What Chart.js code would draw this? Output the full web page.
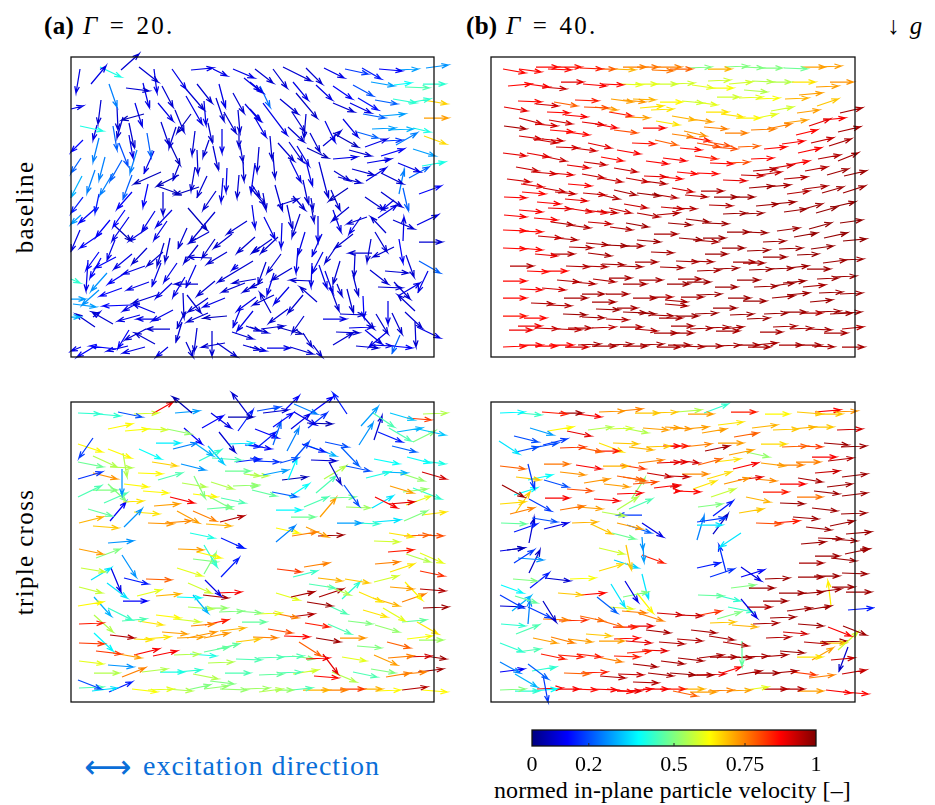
<!DOCTYPE html>
<html><head><meta charset="utf-8">
<script src="https://cdn.jsdelivr.net/npm/chart.js@4"></script>
<style>
html,body{margin:0;padding:0;background:#fff;width:935px;height:805px;overflow:hidden}
canvas{position:absolute;display:block}
.t{position:absolute;font-family:"Liberation Serif",serif;color:#000;white-space:nowrap;line-height:1;font-size:25px}
.rot{transform:translate(-50%,-50%) rotate(-90deg);transform-origin:center;letter-spacing:1.35px}
</style></head><body>
<div class="t" style="left:44px;top:13px;letter-spacing:.3px"><b>(a)</b></div>
<div class="t" style="left:83px;top:13px;letter-spacing:2.2px;word-spacing:2px"><i>Γ</i> = 20.</div>
<div class="t" style="left:466px;top:13px;letter-spacing:.3px"><b>(b)</b></div>
<div class="t" style="left:506px;top:13px;letter-spacing:2.2px;word-spacing:2px"><i>Γ</i> = 40.</div>
<div class="t" style="left:887px;top:13px;word-spacing:4px">↓ <i>g</i></div>
<div class="t rot" style="left:24px;top:207px">baseline</div>
<div class="t rot" style="left:24px;top:552px">triple cross</div>
<div class="t" style="left:84px;top:752px;color:#0a6ed8;font-size:28px;letter-spacing:1px;word-spacing:0"><span style="font-family:'DejaVu Sans';font-size:33px;letter-spacing:0;line-height:28px;position:relative;top:1px">⟷</span><span style="position:absolute;left:59px;top:0">excitation direction</span></div>
<div class="t" style="left:494px;top:778px;font-size:24px;letter-spacing:.1px">normed in-plane particle velocity [–]</div>
<canvas id="pa" width="403" height="340" style="left:51px;top:37px"></canvas>
<canvas id="pb" width="404" height="340" style="left:471px;top:37px"></canvas>
<canvas id="pc" width="403" height="340" style="left:51px;top:382px"></canvas>
<canvas id="pd" width="404" height="340" style="left:471px;top:382px"></canvas>
<canvas id="cb" width="404" height="56" style="left:472px;top:720px"></canvas>
<script>
// each arrow: [tailX, tailY, tipX, tipY, normed speed]
const baselineG20=[[80,69,76,93,.1],[91,84,106,66,.1],[100,67,121,77,.4],[121,70,139,54,.08],[139,67,158,82,.08],[154,69,157,93,.1],[172,69,186,89,.1],[191,70,213,68,.1],[213,69,227,76,.1],[233,69,254,78,.1],[244,78,260,91,.1],[109,84,117,107,.25],[126,88,149,91,.08],[143,83,149,107,.1],[162,86,173,107,.08],[186,89,204,110,.08],[197,84,212,103,.08],[219,84,225,107,.1],[233,93,244,113,.08],[245,104,260,121,.1],[101,100,98,124,.08],[71,109,83,106,.1],[117,107,118,130,.08],[80,126,103,131,.4],[144,114,122,120,.06],[135,103,142,126,.1],[158,103,173,121,.1],[175,110,184,132,.08],[191,114,177,133,.06],[186,96,202,124,.1],[204,101,206,125,.1],[216,98,224,121,.08],[224,112,236,133,.08],[238,110,240,133,.08],[123,117,117,138,.08],[97,125,93,140,.1],[113,126,117,150,.22],[129,123,134,147,.08],[129,135,133,158,.1],[83,140,71,152,.13],[99,138,93,162,.25],[119,143,128,166,.2],[137,150,130,173,.25],[147,133,151,157,.22],[154,151,144,173,.1],[161,122,169,145,.08],[176,127,169,148,.08],[169,142,180,165,.06],[195,131,192,155,.08],[208,123,212,142,.08],[209,140,203,157,.08],[222,129,222,153,.1],[239,128,239,147,.08],[240,145,243,162,.08],[213,146,218,169,.08],[197,150,198,174,.08],[81,158,71,173,.22],[105,157,99,180,.25],[122,160,110,181,.22],[95,170,87,193,.25],[82,176,71,197,.3],[179,165,173,180,.08],[132,175,123,199,.22],[113,173,100,195,.25],[161,172,134,184,.06],[179,175,157,186,.06],[157,186,179,194,.06],[199,187,175,195,.06],[195,167,191,191,.08],[207,176,197,197,.08],[227,168,226,192,.1],[243,162,244,181,.08],[239,175,237,198,.08],[255,163,251,193,.1],[252,185,260,197,.08],[163,192,163,215,.08],[148,184,143,207,.12],[132,192,117,209,.12],[83,197,71,213,.15],[99,194,95,213,.15],[216,191,203,210,.08],[223,178,221,202,.1],
[255,69,273,83,.08],[273,69,287,88,.08],[283,67,311,81,.08],[306,68,322,84,.08],[324,68,344,78,.1],[345,69,368,74,.18],[362,68,381,79,.15],[379,69,402,71,.12],[397,70,418,69,.28],[426,68,448,65,.27],[250,82,263,93,.1],[260,86,270,107,.23],[293,82,308,100,.1],[316,85,332,100,.1],[333,86,352,99,.12],[353,85,373,96,.2],[371,82,394,86,.28],[394,85,411,83,.38],[405,87,429,88,.45],[423,84,445,84,.42],[375,100,397,104,.22],[358,98,378,110,.14],[393,99,416,103,.42],[408,103,430,99,.42],[423,100,447,104,.67],[280,99,298,114,.08],[296,93,317,118,.07],[263,103,287,135,.1],[292,112,305,132,.08],[306,114,304,138,.08],[250,109,261,121,.1],[255,118,266,137,.1],[288,127,304,142,.08],[333,103,354,112,.08],[350,103,371,113,.1],[363,114,385,118,.22],[382,116,405,114,.28],[424,118,448,118,.72],[325,121,335,142,.1],[343,119,358,137,.1],[323,146,341,131,.08],[333,133,358,147,.06],[310,133,320,152,.08],[357,132,378,138,.22],[372,129,395,128,.28],[388,130,413,129,.3],[413,128,430,132,.4],[424,136,446,144,.66],[365,147,387,139,.1],[385,141,402,140,.18],[396,145,417,133,.25],[270,136,272,159,.08],[278,143,294,161,.08],[289,142,303,162,.08],[297,146,309,166,.1],[307,148,328,158,.06],[349,150,371,156,.08],[333,159,357,157,.1],[381,156,404,149,.12],[367,163,391,159,.1],[413,149,435,156,.28],[422,166,445,162,.4],[398,163,420,172,.1],[259,147,257,172,.08],[273,155,275,178,.08],[290,160,301,182,.1],[307,165,312,185,.1],[319,162,328,197,.08],[352,169,374,175,.08],[334,171,350,181,.08],[338,177,361,183,.08],[366,181,386,168,.1],[381,173,403,184,.08],[409,178,429,167,.22],[399,194,404,170,.25],[348,188,329,201,.06],[419,194,441,186,.12],[403,188,408,210,.22],[365,197,384,210,.08],[381,192,402,207,.08],[394,200,382,210,.1],[275,185,282,210,.08],[303,180,308,203,.08],[331,190,340,210,.08],[250,187,265,205,.08],[263,193,266,210,.08],[277,206,298,199,.08],[293,196,305,210,.08],[311,198,313,210,.08],
[81,215,71,224,.28],[97,207,79,223,.12],[110,220,96,237,.12],[80,230,71,251,.1],[102,233,80,248,.12],[125,210,113,227,.12],[129,217,112,241,.1],[115,226,131,241,.06],[155,211,142,231,.1],[172,210,156,227,.1],[167,221,154,240,.1],[148,228,129,241,.1],[187,228,178,248,.08],[115,240,107,260,.1],[99,252,86,270,.12],[101,258,90,278,.12],[116,257,95,268,.12],[132,254,114,269,.1],[147,248,132,264,.08],[163,252,147,266,.08],[164,243,157,266,.08],[177,263,164,282,.1],[170,238,165,262,.08],[88,260,86,291,.1],[107,273,91,291,.27],[145,266,123,274,.1],[127,272,108,284,.12],[161,263,152,286,.1],[149,282,127,290,.1],[122,288,100,296,.12],[99,290,82,305,.27],[185,277,173,297,.1],[196,265,186,287,.1],[198,284,175,284,.08],[198,245,184,263,.08],[212,258,188,257,.08],[209,232,189,243,.08],[215,212,190,242,.08],[188,208,207,230,.06],[247,221,227,234,.08],[232,234,214,248,.08],[215,239,202,258,.08],[227,252,207,264,.08],[255,237,237,253,.08],[260,247,253,252,.08],[238,265,232,270,.1],[253,261,218,282,.08],[71,279,80,283,.42],[71,299,85,299,.28],[73,304,96,307,.28],[71,317,80,317,.3],[172,283,156,298,.1],[157,295,133,303,.08],[132,305,103,306,.12],[155,313,133,304,.1],[138,303,123,311,.1],[113,324,92,312,.08],[95,327,76,314,.08],[93,317,100,312,.1],[140,315,118,321,.1],[173,310,152,321,.1],[161,319,137,319,.1],[183,293,184,318,.08],[208,298,188,312,.08],[187,295,201,313,.08],[225,298,203,307,.1],[227,316,204,318,.06],[208,313,187,322,.08],[185,312,177,328,.08],[182,322,176,342,.08],[215,281,197,296,.08],[256,279,233,283,.08],[245,283,222,292,.08],[260,283,243,292,.08],[256,297,237,311,.1],[240,310,233,327,.1],[253,311,237,331,.1],[170,329,147,329,.08],[129,330,118,348,.12],[146,329,125,340,.08],[155,344,135,333,.08],[116,349,90,346,.12],[97,345,77,357,.12],[81,347,71,351,.1],[128,346,107,351,.1],[145,347,123,353,.1],[168,347,156,357,.1],[197,328,194,352,.08],[212,331,212,356,.08],[225,343,202,347,.08],[217,343,237,357,.08],[186,342,193,357,.08],[232,332,253,339,.08],[246,326,260,331,.08],[243,345,260,350,.08],
[252,205,255,228,.1],[264,217,275,239,.1],[287,205,292,228,.08],[300,214,292,237,.08],[311,205,314,222,.08],[318,216,318,242,.1],[349,207,332,221,.08],[333,210,341,232,.1],[367,217,347,224,.08],[361,217,349,234,.1],[386,233,371,217,.08],[378,218,397,205,.1],[393,220,414,229,.08],[417,225,438,215,.1],[403,241,404,217,.1],[419,242,442,242,.08],[278,237,261,253,.08],[272,239,252,253,.08],[282,223,281,248,.1],[305,232,298,255,.1],[322,234,312,256,.1],[353,234,335,248,.08],[336,247,325,263,.08],[371,239,367,262,.08],[375,232,387,252,.08],[394,247,373,257,.08],[372,253,349,253,.08],[399,239,403,263,.12],[406,255,414,277,.08],[419,261,440,273,.22],[281,254,267,273,.08],[298,248,296,273,.1],[323,252,312,273,.1],[292,268,272,280,.08],[266,262,258,284,.08],[274,273,267,295,.1],[263,282,250,288,.08],[312,263,311,287,.1],[312,281,290,280,.08],[319,265,327,288,.1],[325,271,333,293,.1],[340,261,333,284,.08],[355,254,354,277,.08],[353,275,358,295,.08],[337,284,342,296,.08],[330,287,339,311,.08],[347,289,353,312,.08],[370,270,388,284,.08],[385,271,408,273,.08],[378,287,402,288,.08],[394,282,410,299,.08],[398,296,420,283,.1],[428,271,418,292,.1],[415,311,398,295,.08],[289,287,274,304,.1],[303,295,288,313,.08],[317,302,300,287,.08],[271,313,260,293,.08],[274,295,253,305,.08],[288,309,269,323,.08],[304,316,292,333,.08],[340,314,364,315,.08],[363,296,364,318,.12],[362,315,374,329,.08],[388,301,388,324,.1],[376,314,388,334,.08],[392,313,402,334,.08],[405,312,422,328,.08],[415,322,416,347,.08],[417,327,440,338,.1],[323,319,346,319,.1],[349,328,373,327,.1],[336,332,359,333,.08],[333,345,353,333,.08],[365,330,382,344,.1],[387,332,369,347,.1],[400,335,392,353,.22],[356,346,378,348,.08],[370,345,392,346,.1],[392,346,412,348,.12],[250,327,268,333,.08],[261,329,284,326,.08],[277,327,302,334,.06],[250,347,266,351,.1],[267,348,290,348,.1],[290,347,313,354,.08],[303,333,312,347,.08],[313,345,322,357,.08]];

const baselineG40=[[503,69,525,73,.87],[519,69,541,72,.87],[536,67,558,67,.87],[548,69,571,70,.87],[558,67,581,67,.86],[580,68,602,69,.85],[597,69,615,69,.78],[613,69,635,70,.7],[623,67,646,67,.75],[637,67,658,67,.76],[652,70,673,71,.76],[657,67,681,67,.75],[670,69,692,69,.78],[688,68,711,67,.5],[708,69,731,69,.7],[725,67,748,66,.5],[742,67,763,68,.5],[759,68,782,68,.5],[784,68,807,69,.48],[802,67,825,67,.72],[819,67,841,66,.72],
[508,86,531,84,.87],[527,84,549,87,.88],[542,87,566,89,.93],[561,82,583,82,.9],[583,84,606,86,.88],[602,84,623,85,.87],[620,84,642,85,.6],[635,84,657,84,.6],[654,84,677,84,.58],[672,84,694,83,.58],[692,85,713,88,.6],[712,88,733,88,.62],[708,81,730,80,.58],[729,84,752,82,.58],[752,81,773,82,.55],[770,82,791,82,.55],[792,82,815,82,.65],[816,87,838,86,.72],[830,82,853,82,.73],[744,90,767,92,.55],[717,97,739,97,.58],[739,98,762,97,.6],[757,99,779,98,.62],[785,99,808,98,.7],[799,95,822,93,.72],
[518,101,541,102,.87],[536,104,558,106,.92],[554,102,577,106,.78],[575,100,598,101,.85],[584,107,608,108,.8],[595,107,617,110,.72],[611,99,633,102,.72],[623,100,645,102,.73],[633,99,655,100,.7],[640,108,663,106,.65],[651,110,673,109,.65],[660,102,682,102,.63],[682,101,703,103,.58],[695,102,717,105,.6],[504,107,527,111,.9],[547,112,569,113,.87],[565,115,587,117,.88],[609,112,632,116,.85],[626,117,649,118,.72],[706,112,728,112,.65],[721,114,743,117,.65],[738,118,760,118,.63],[757,118,777,114,.6],[771,111,793,107,.58],[797,113,819,110,.72],[817,106,838,99,.68],[840,113,862,108,.96],
[519,118,542,124,.92],[535,124,557,126,.92],[549,120,572,124,.92],[504,126,526,129,.96],[582,122,604,125,.9],[595,124,617,128,.88],[550,130,573,132,.87],[566,132,589,135,.87],[614,130,637,133,.8],[643,128,665,128,.87],[656,121,679,125,.65],[672,116,695,120,.7],[690,119,712,122,.72],[704,127,727,129,.75],[725,133,747,133,.75],[751,130,775,129,.75],[767,129,791,124,.75],[784,123,807,120,.72],[809,126,830,119,.9],[823,120,845,118,.88],[796,135,817,130,.87],[838,132,860,127,.96],
[519,136,541,139,.92],[533,139,557,143,.92],[542,139,563,141,.92],[556,147,578,148,.92],[573,148,596,151,.92],[588,143,611,148,.9],[617,150,640,154,.88],[632,143,655,144,.86],[655,140,677,145,.78],[672,134,693,137,.75],[684,131,706,136,.73],[687,137,710,141,.85],[680,148,701,150,.87],[697,143,720,147,.8],[708,142,730,146,.8],[712,147,737,149,.8],[738,147,759,146,.78],[764,149,786,147,.87],[782,144,804,141,.88],[811,143,833,138,.93],[829,146,851,139,.96],[798,153,821,148,.88],
[503,153,526,156,.9],[527,153,549,157,.9],[542,156,566,161,.93],[584,162,606,165,.93],[601,157,623,161,.87],[567,165,589,168,.9],[646,161,668,164,.88],[663,158,686,161,.88],[695,156,717,159,.85],[710,163,733,164,.87],[727,163,749,162,.8],[751,159,773,158,.87],[773,168,793,165,.92],[787,165,809,161,.88],[818,159,840,155,.95],[838,161,858,153,.96],
[516,167,538,171,.93],[533,172,556,174,.92],[551,173,573,175,.9],[582,174,604,178,.93],[599,178,622,182,.93],[614,168,637,172,.93],[644,176,666,177,.9],[662,177,682,179,.87],[626,178,648,182,.93],[643,181,666,184,.95],[677,172,697,174,.87],[697,173,718,174,.87],[723,180,746,181,.9],[741,175,763,176,.93],[753,171,776,169,.95],[759,175,781,172,.93],[784,179,807,177,.95],[805,171,827,167,.95],[827,175,848,169,.97],[844,176,866,171,.97],[507,179,530,182,.92],[521,184,543,187,.9],
[543,188,565,192,.93],[568,184,591,186,.88],[555,192,575,194,.93],[583,193,605,195,.93],[597,194,619,199,.95],[614,190,636,195,.96],[637,193,660,196,.97],[652,194,677,198,.95],[672,188,693,192,.92],[685,195,707,197,.95],[701,191,723,191,.95],[714,197,737,197,.97],[732,197,754,197,.97],[749,188,773,186,.97],[767,187,790,185,.96],[787,194,809,191,.95],[804,189,827,186,.96],[822,193,843,187,.97],[843,193,865,186,.97],[522,192,545,194,.87],[504,197,526,198,.88],
[537,202,560,204,.88],[565,199,587,201,.9],[548,208,571,209,.9],[566,208,592,212,.9],[585,210,607,213,.9],[597,211,617,213,.93],[609,208,631,213,.93],[624,204,647,208,.93],[637,213,659,217,.95],[657,215,679,213,.95],[661,207,683,209,.93],[673,208,696,209,.95],[709,205,732,206,.95],[723,214,746,213,.97],[742,214,763,213,.97],[756,206,778,204,.97],[773,204,795,202,.97],[784,212,806,209,.97],[800,210,822,204,.97],[816,213,837,207,.98],[833,207,855,202,.98],[504,215,526,217,.88],[519,210,542,212,.88],
[534,218,557,220,.88],[551,222,573,225,.95],[568,225,590,228,.95],[588,222,611,224,.93],[610,227,632,230,.95],[626,223,648,227,.97],[668,223,691,225,.97],[686,219,709,222,.97],[705,223,728,224,.97],[654,234,677,234,.96],[727,232,749,232,.97],[745,232,767,233,.97],[777,231,799,228,.97],[794,237,817,233,.98],[809,229,831,223,.98],[824,238,847,233,.98],[840,223,862,220,.98],[503,230,526,231,.87],[519,231,542,232,.87],[538,236,561,238,.93],[555,238,577,240,.95],
[679,238,702,240,.97],[693,240,718,242,.96],[703,238,725,238,.97],[637,240,660,242,.97],[586,243,608,245,.96],[605,245,627,246,.97],[620,246,643,246,.96],[569,247,592,248,.95],[763,242,785,241,.97],[722,248,744,248,.97],[747,251,769,250,.97],[779,249,802,248,.97],[811,249,833,246,.98],[843,241,866,239,.98],[797,255,818,254,.98],[503,248,526,249,.87],[519,248,542,250,.87],[535,254,557,256,.9],[551,254,574,254,.95],[588,253,611,256,.96],[651,252,673,253,.96],[705,254,727,254,.97],
[510,266,533,266,.95],[527,271,548,272,.87],[545,271,567,271,.87],[566,266,589,267,.95],[584,266,607,267,.95],[602,264,624,265,.96],[620,266,642,267,.96],[635,262,657,262,.96],[660,267,683,268,.96],[676,261,698,262,.96],[691,261,713,262,.96],[697,271,720,270,.96],[716,269,738,268,.97],[733,262,755,262,.96],[743,263,764,263,.96],[749,270,772,269,.97],[763,257,786,257,.97],[770,269,793,268,.97],[787,268,808,266,.97],[807,269,830,269,.97],[823,263,846,260,.97],[842,260,863,259,.97],
[503,281,526,281,.87],[557,280,579,282,.95],[573,282,595,284,.95],[593,279,615,282,.95],[609,278,631,278,.96],[623,284,646,284,.96],[639,280,662,280,.96],[667,284,689,284,.97],[678,279,701,279,.96],[687,282,710,282,.97],[737,280,759,280,.97],[754,287,777,286,.97],[772,286,794,283,.97],[783,283,805,281,.97],[803,287,825,285,.96],[817,279,838,278,.97],[833,277,856,276,.97],
[520,289,542,290,.88],[542,288,565,290,.92],[715,287,737,287,.97],[503,298,526,298,.87],[531,303,553,304,.95],[548,305,571,306,.95],[564,298,587,298,.96],[582,294,604,294,.96],[592,302,615,302,.96],[606,294,628,294,.96],[633,298,656,298,.96],[650,297,672,297,.95],[665,300,687,302,.96],[665,304,687,306,.96],[681,297,703,297,.96],[698,295,721,294,.97],[728,298,750,298,.97],[743,301,766,301,.97],[772,298,794,296,.97],[787,295,809,293,.97],[810,302,832,300,.97],[819,293,842,292,.97],[840,294,862,293,.97],
[713,308,736,308,.97],[596,309,619,310,.97],[617,308,637,308,.96],[563,314,586,315,.97],[582,317,604,318,.96],[606,319,628,320,.95],[623,312,646,313,.97],[638,313,655,314,.97],[652,315,673,316,.96],[659,318,682,318,.96],[677,316,698,316,.97],[695,314,717,313,.97],[730,315,753,314,.97],[747,319,769,318,.97],[764,314,787,313,.97],[784,312,806,312,.97],[801,313,822,313,.95],[830,314,852,313,.97],[838,313,861,312,.97],[817,312,840,311,.97],[503,316,526,316,.86],[524,318,546,318,.87],
[518,326,541,326,.89],[509,330,532,330,.89],[535,328,558,329,.93],[558,329,581,330,.94],[568,328,591,328,.95],[592,328,615,327,.94],[620,327,642,327,.95],[635,329,657,331,.95],[654,333,677,333,.96],[671,326,693,326,.96],[670,333,693,333,.96],[690,329,712,328,.96],[707,328,729,327,.96],[716,331,739,331,.96],[722,329,743,327,.96],[760,332,782,332,.96],[773,327,796,326,.96],[790,329,812,328,.96],[808,329,831,330,.96],[824,333,847,333,.96],[842,329,863,327,.95],
[503,347,526,346,.87],[519,345,542,345,.88],[535,346,557,346,.87],[549,345,573,345,.88],[565,347,588,347,.92],[578,345,600,344,.96],[592,346,616,346,.96],[608,345,632,344,.96],[623,346,647,346,.96],[640,345,663,344,.96],[657,347,680,347,.96],[668,345,690,345,.96],[682,346,704,347,.96],[700,346,722,346,.96],[718,346,740,345,.96],[737,345,759,345,.96],[748,347,770,347,.96],[755,345,777,343,.96],[779,345,802,345,.96],[795,345,821,345,.96],[812,346,834,347,.96],[842,347,864,347,.96]];

const tripleCrossG20=[[78,413,100,414,.42],[97,414,120,416,.42],[118,412,142,417,.2],[134,414,158,413,.58],[152,414,173,402,.88],[192,413,173,397,.05],[175,413,199,411,.28],[250,417,232,393,.08],[202,428,223,416,.12],[211,413,231,428,.1],[228,417,253,417,.05],[238,431,253,410,.15],[108,429,132,424,.63],[125,431,148,429,.62],[148,429,167,430,.58],[167,429,191,434,.52],[184,428,202,444,.12],[219,432,235,452,.08],[229,444,253,443,.35],[245,445,260,447,.15],[93,438,79,458,.18],[78,444,102,452,.63],[108,449,131,458,.63],[139,449,161,459,.38],[156,443,180,443,.36],[173,449,197,443,.25],[196,444,213,456,.3],[199,461,221,450,.42],[208,446,224,464,.32],[212,458,241,460,.45],[236,462,260,459,.15],[93,456,117,467,.55],[110,467,132,468,.55],[123,453,127,477,.55],[78,462,103,467,.48],[152,462,177,466,.67],[181,464,205,470,.27],[225,471,250,471,.48],[244,474,260,476,.55],[78,479,102,472,.17],[93,473,117,479,.73],[122,469,122,495,.27],[138,473,162,474,.63],[158,480,182,473,.45],[182,483,206,487,.55],[211,482,233,489,.55],[233,486,258,485,.52],[78,497,101,486,.45],[93,490,117,490,.5],[108,484,126,501,.5],[124,484,148,487,.63],[143,491,168,493,.63],[194,476,205,498,.5],[193,494,217,497,.63],[104,503,127,493,.45],[123,502,143,501,.65],[170,497,194,503,.88],[154,506,179,504,.72],[221,498,245,503,.45],[208,496,232,509,.5],[207,509,232,507,.47],[88,509,112,516,.47],[110,521,126,502,.12],[124,527,142,509,.27],[134,512,159,514,.65],[79,523,103,517,.7],[93,526,118,528,.68],[148,523,173,524,.73],[165,523,191,521,.74],[177,511,199,523,.72],[193,511,216,521,.75],[206,524,231,526,.7],[220,522,244,516,.95],[190,533,214,538,.4],[221,538,243,548,.15],[108,543,133,541,.27],
[257,411,280,407,.2],[263,413,288,410,.08],[286,409,299,396,.12],[294,404,317,414,.25],[311,413,333,397,.12],[347,414,333,393,.15],[273,427,293,413,.13],[291,429,310,414,.1],[294,412,316,425,.1],[308,428,327,413,.17],[307,423,332,424,.05],[273,445,281,422,.22],[255,429,278,438,.12],[258,447,276,432,.15],[287,451,299,428,.25],[250,445,271,449,.12],[361,426,378,407,.28],[373,413,394,427,.45],[390,413,414,420,.32],[407,418,431,420,.82],[423,414,447,413,.55],[389,428,411,441,.45],[359,445,373,423,.27],[374,440,382,416,.08],[378,432,402,442,.15],[397,432,422,428,.3],[418,429,445,435,.32],[413,442,435,431,.5],[392,446,416,452,.22],[325,442,348,447,.2],[302,444,325,452,.15],[309,446,336,456,.3],[341,447,359,466,.22],[280,463,298,458,.2],[295,458,309,442,.2],[250,458,260,460,.17],[254,461,279,462,.17],[311,460,336,461,.08],[374,459,399,464,.38],[407,457,430,463,.38],[423,461,445,464,.4],[346,466,370,471,.2],[329,462,341,484,.07],[288,480,297,458,.37],[263,475,288,470,.28],[324,479,346,466,.55],[366,478,390,472,.4],[382,472,407,473,.3],[400,473,424,481,.52],[422,472,446,479,.92],[282,480,307,477,.05],[250,475,268,476,.55],[250,486,258,486,.5],[252,490,276,496,.47],[272,492,297,497,.22],[289,497,309,484,.38],[316,493,336,476,.45],[390,486,413,493,.72],[403,492,427,489,.52],[413,488,441,499,.42],[344,485,359,506,.2],[304,507,328,497,.45],[330,498,355,497,.48],[320,517,336,498,.72],[375,497,397,508,.88],[389,504,414,502,.9],[372,508,393,496,.35],[346,507,370,508,.53],[406,505,431,496,.6],[276,510,301,510,.37],[291,517,315,517,.48],[404,521,427,511,.5],[422,515,446,512,.65],[337,523,361,523,.28],[355,523,379,524,.42],[375,522,400,520,.35],[276,542,295,526,.25],[276,528,299,533,.63],[292,536,317,532,.75],[306,527,328,537,.72],[318,536,343,535,.97],[389,533,413,537,.65],[404,536,429,535,.78],[418,535,443,536,.8],[374,541,399,542,.58],
[79,549,103,554,.72],[96,558,120,549,.5],[178,549,203,550,.72],[197,552,221,558,.63],[204,545,217,567,.42],[193,559,217,562,.5],[204,574,216,553,.5],[221,577,239,558,.15],[236,545,244,548,.15],[122,555,136,577,.27],[81,568,105,572,.57],[91,580,111,568,.35],[111,568,121,592,.1],[177,568,202,576,.6],[124,578,148,584,.15],[146,579,171,580,.78],[277,569,301,572,.82],[304,567,329,563,.75],[293,577,317,571,.43],[318,578,342,581,.7],[345,579,369,583,.68],[375,564,399,562,.75],[388,552,413,550,.85],[406,554,430,562,.55],[420,553,443,563,.6],[390,572,414,564,.65],[420,571,444,576,.83],[374,582,398,576,.58],[79,587,102,593,.57],[107,583,127,598,.35],[137,596,161,590,.6],[188,583,211,593,.58],[205,580,221,596,.1],[156,596,180,594,.7],[203,595,228,598,.96],[217,593,241,592,.88],[177,597,201,598,.38],[123,601,147,601,.12],[193,595,208,613,.3],[309,584,335,588,.45],[327,586,350,595,.55],[342,599,360,582,.42],[319,597,343,589,.96],[291,597,314,592,.96],[276,593,299,600,.6],[307,602,332,606,.97],[327,605,347,614,.45],[359,592,382,602,.65],[373,598,399,606,.7],[390,587,413,589,.72],[405,582,422,600,.63],[402,602,425,594,.75],[420,589,445,591,.95],[423,608,448,607,.97],[78,606,103,602,.63],[94,597,111,616,.3],[108,608,132,620,.43],[122,621,146,619,.45],[188,607,213,609,.55],[203,608,227,608,.52],[219,612,243,611,.5],[237,611,261,613,.5],[257,614,281,613,.6],[273,613,298,618,.75],[290,617,314,614,.95],[363,610,387,617,.65],[383,608,405,621,.6],[402,622,426,620,.47],[156,615,180,618,.63],[175,619,200,622,.58],[138,621,163,625,.65],[79,624,103,623,.85],[191,626,214,624,.75],[205,625,228,620,.85],[242,622,266,622,.47],[348,621,372,624,.5],[375,625,399,632,.52],[417,622,438,634,.65],[94,615,113,632,.55],[305,623,329,627,.85],[328,624,351,634,.45],[110,635,134,638,.95],[268,629,292,633,.8],[220,631,245,628,.7],[162,632,187,634,.72],[134,639,152,640,.65],[144,639,170,637,.65],[177,638,203,637,.72],[187,638,216,632,.73],[204,638,229,633,.73],[236,642,260,639,.68],[253,637,277,638,.75],[284,636,309,637,.87],[316,638,340,642,.97],[340,638,365,638,.73],[407,639,432,636,.62],[419,640,443,640,.53],[387,642,410,648,.78],[357,646,381,648,.5],[79,643,104,644,.82],[94,633,113,651,.37],[96,651,121,654,.82],[113,653,141,658,.72],[134,655,159,649,.88],[153,656,177,651,.88],[174,655,199,654,.55],[190,654,216,656,.4],[204,652,229,647,.47],[217,649,239,644,.47],[299,642,321,656,.78],[323,654,338,674,.9],[306,659,329,658,.88],[374,655,397,665,.72],[388,658,413,656,.75],[407,657,431,656,.92],[425,656,446,659,.97],[342,657,366,661,.6],[236,659,261,660,.45],[258,658,283,657,.45],[278,657,303,656,.45],[292,656,314,659,.5],[79,661,103,664,.6],[108,665,133,667,.27],[208,663,233,662,.55],[122,677,145,668,.75],[94,673,119,673,.55],[142,672,167,669,.55],[160,672,184,672,.4],[177,672,201,670,.42],[193,674,218,679,.55],[225,673,250,673,.45],[259,675,283,674,.47],[277,673,301,672,.45],[293,674,318,670,.58],[314,676,338,678,.87],[332,672,356,682,.55],[353,672,377,677,.45],[371,669,395,673,.5],[386,677,410,673,.75],[405,674,426,672,.75],[418,672,443,669,.97],[78,680,101,689,.2],[79,688,103,687,.45],[92,691,117,688,.35],[109,692,132,682,.15],[210,681,234,684,.5],[132,689,157,692,.62],[148,690,173,689,.6],[167,689,192,691,.55],[187,690,210,685,.5],[204,689,228,686,.52],[220,689,247,690,.52],[245,689,269,688,.53],[259,692,282,689,.55],[275,690,293,690,.52],[292,690,312,688,.45],[303,690,329,690,.7],[321,690,347,690,.75],[340,689,364,689,.82],[358,689,382,689,.7],[377,691,400,690,.63],[402,690,427,687,.95],[422,690,447,692,.63]];

const tripleCrossG40=[[500,413,524,412,.37],[520,413,541,415,.43],[542,412,567,414,.85],[559,413,582,413,.97],[577,414,601,417,.88],[599,412,624,411,.73],[620,411,642,409,.75],[635,413,659,413,.68],[653,413,677,412,.68],[530,428,553,435,.28],[548,431,573,427,.63],[567,431,591,436,.9],[588,430,612,427,.55],[610,429,632,428,.58],[623,428,648,433,.55],[643,428,668,430,.72],[665,427,680,428,.72],[514,436,538,442,.2],[499,441,519,454,.35],[516,452,538,447,.2],[533,448,558,443,.2],[543,445,567,439,.18],[560,448,585,447,.82],[577,447,602,452,.78],[595,451,619,451,.85],[599,443,623,452,.65],[613,443,638,444,.68],[629,447,653,450,.7],[646,447,670,446,.68],[663,446,680,446,.88],[500,466,525,469,.78],[528,464,534,488,.18],[544,464,569,464,.76],[576,465,601,469,.88],[603,466,628,466,.7],[620,465,645,469,.82],[638,463,663,460,.75],[657,463,680,462,.9],[516,477,540,480,.68],[528,480,552,475,.38],[560,472,585,475,.73],[544,480,568,487,.2],[647,473,671,477,.93],[617,476,642,480,.78],[623,477,646,481,.78],[584,483,609,479,.73],[633,484,657,482,.8],[604,484,629,487,.72],[502,485,524,497,.97],[514,495,537,488,.38],[516,512,530,492,.68],[500,504,525,502,.66],[567,489,592,491,.8],[654,488,679,485,.88],[675,491,680,491,.88],[545,498,569,498,.88],[617,494,642,493,.88],[594,499,619,501,.88],[529,499,551,511,.18],[510,514,534,508,.75],[560,510,584,506,.76],[578,507,602,509,.72],[629,509,652,499,.45],[617,510,638,497,.55],[632,498,645,478,.52],[602,512,625,516,.55],[642,515,618,515,.18],[532,518,557,522,.2],[501,523,526,524,.47],[514,532,537,524,.15],[544,529,568,523,.1],[529,543,534,518,.08],[572,523,597,522,.7],[591,524,612,534,.68],[617,523,642,529,.72],[627,525,651,533,.22],[642,523,663,537,.1],[612,533,635,539,.48],[507,550,524,548,.05],[642,537,643,550,.27],
[677,412,701,410,.55],[688,414,713,414,.72],[704,413,728,404,.42],[731,412,756,412,.85],[765,414,789,414,.63],[797,412,822,414,.68],[815,414,842,414,.68],[815,412,840,410,.88],[833,412,857,411,.73],[670,428,691,429,.73],[685,429,708,427,.72],[702,433,726,429,.72],[718,425,743,422,.65],[752,428,777,425,.7],[773,430,798,429,.68],[792,429,815,427,.7],[808,427,833,427,.68],[734,437,758,433,.78],[837,430,862,429,.92],[670,446,688,446,.85],[683,447,711,444,.75],[718,443,743,443,.72],[705,451,729,446,.96],[761,444,786,444,.66],[782,447,807,446,.78],[798,446,822,447,.82],[824,443,848,445,.97],[841,447,866,446,.97],[729,455,753,450,.72],[746,452,769,457,.52],[670,462,687,462,.9],[683,461,699,463,.92],[698,465,721,459,.78],[715,462,740,459,.65],[761,463,785,466,.72],[777,465,803,465,.75],[796,462,820,462,.75],[812,457,836,457,.88],[828,461,853,458,.95],[733,469,758,463,.88],[670,476,689,477,.93],[682,474,708,474,.74],[707,479,731,472,.66],[724,484,749,478,.73],[738,480,762,477,.9],[755,479,776,481,.74],[780,484,805,484,.88],[815,473,839,471,.93],[798,478,822,482,.96],[827,487,852,484,.97],[842,477,867,474,.97],[670,487,679,486,.92],[675,491,700,492,.87],[693,489,716,481,.65],[711,497,735,489,.57],[763,492,788,492,.85],[814,491,839,494,.97],[842,496,867,493,.97],[746,497,770,502,.7],[797,497,822,497,.76],[780,503,804,504,.97],[698,507,722,504,.5],[713,516,733,501,.15],[812,508,837,511,.97],[739,513,763,509,.68],[841,514,866,513,.97],[697,522,725,518,.18],[697,525,722,525,.35],[713,534,728,514,.07],[697,540,704,516,.25],[756,523,781,524,.8],[774,523,799,521,.85],[793,517,818,519,.97],[830,526,854,521,.97],[806,527,831,530,.97],[846,534,871,532,.97],[741,533,720,547,.35],[818,538,842,539,.97],[832,539,857,541,.97],[801,544,825,542,.97],[860,549,869,549,.97],
[500,551,524,548,.1],[514,563,534,550,.18],[518,558,543,560,.27],[529,573,540,550,.07],[599,548,624,554,.58],[626,545,631,569,.68],[599,571,623,564,.66],[614,560,638,568,.33],[643,545,644,562,.28],[642,555,664,563,.85],[697,568,720,563,.15],[726,572,719,545,.17],[710,577,734,569,.17],[741,567,761,581,.1],[741,577,764,570,.12],[815,556,839,556,.97],[799,563,823,563,.96],[831,558,856,561,.97],[845,554,869,549,.97],[765,579,789,578,.97],[798,577,823,577,.97],[814,576,839,576,.97],[842,573,867,574,.97],[513,579,537,581,.5],[530,588,549,573,.15],[545,578,570,581,.08],[570,579,595,578,.62],[749,588,774,588,.97],[731,588,755,585,.5],[501,585,523,593,.37],[500,595,523,608,.18],[515,596,537,603,.47],[512,611,531,596,.3],[528,624,530,600,.25],[500,606,524,607,.08],[543,601,556,622,.07],[528,607,551,618,.18],[558,593,582,595,.68],[581,595,605,593,.87],[611,584,625,607,.35],[597,597,617,613,.22],[625,581,638,602,.1],[623,597,648,592,.5],[642,574,648,598,.35],[637,593,653,613,.63],[609,607,633,609,.6],[622,611,646,613,.75],[638,613,663,621,.75],[698,595,723,596,.47],[716,595,740,601,.42],[741,599,757,618,.1],[728,607,753,612,.43],[717,619,741,612,.5],[747,607,771,607,.95],[763,601,787,601,.97],[779,593,804,593,.97],[798,594,823,592,.97],[817,592,841,589,.97],[832,587,854,587,.97],[846,592,871,592,.97],[787,611,811,608,.97],[807,610,831,606,.97],[831,606,828,581,.64],[848,610,873,608,.15],[657,613,682,615,.92],[677,615,702,616,.93],[695,616,721,611,.83],[543,619,568,620,.75],[559,621,587,620,.83],[580,616,604,621,.77],[595,619,623,627,.78],[613,627,637,627,.85],[628,626,653,626,.9],[646,630,670,633,.96],[710,623,735,622,.68],[732,625,757,627,.7],[753,624,778,623,.96],[770,618,795,617,.97],[798,624,823,626,.97],[501,624,525,626,.42],[516,634,539,625,.45],[828,627,851,636,.88],[843,626,866,635,.97],[838,650,858,632,.58],[766,638,790,637,.95],[783,632,807,634,.92],[804,642,828,644,.95],[820,643,846,643,.68],[820,642,846,641,.97],[533,638,557,643,.72],[551,637,574,643,.75],[568,639,592,642,.72],[586,634,611,636,.68],[599,641,624,641,.72],[614,639,639,638,.87],[626,641,651,643,.9],[659,642,684,644,.95],[677,639,702,641,.95],[691,630,716,633,.96],[709,636,734,640,.96],[723,642,748,646,.95],[500,643,523,652,.42],[517,652,540,649,.45],[541,654,565,659,.85],[558,655,583,657,.85],[577,654,601,657,.85],[597,657,622,662,.75],[614,656,639,657,.85],[627,653,651,651,.85],[642,650,667,651,.9],[780,651,804,653,.97],[797,657,822,657,.65],[812,660,833,648,.72],[831,660,854,658,.93],[848,647,839,671,.07],[742,641,742,666,.47],[661,661,684,664,.96],[678,658,703,661,.96],[699,658,723,655,.96],[710,657,737,657,.96],[728,657,752,658,.96],[742,657,768,656,.96],[761,657,787,655,.96],[633,664,657,667,.96],[500,662,520,673,.25],[500,672,524,669,.12],[528,664,548,679,.22],[532,671,556,667,.42],[515,674,537,687,.3],[543,675,548,702,.18],[564,673,589,674,.78],[581,673,607,672,.85],[600,676,625,678,.95],[618,674,643,675,.93],[648,673,673,676,.96],[670,673,695,675,.97],[688,675,713,675,.96],[697,675,725,674,.9],[722,673,741,667,.88],[737,675,761,671,.96],[755,673,779,673,.97],[775,673,797,671,.96],[792,672,816,675,.82],[809,678,834,675,.75],[842,674,866,670,.93],[633,682,658,683,.95],[500,690,525,689,.5],[515,691,539,691,.42],[532,691,557,689,.38],[537,689,562,688,.88],[555,689,579,689,.88],[573,689,597,690,.87],[592,689,617,690,.88],[607,689,633,692,.87],[617,691,641,691,.9],[628,691,652,689,.88],[643,689,668,689,.88],[660,689,685,689,.85],[673,691,697,696,.78],[680,689,704,689,.7],[690,692,716,692,.72],[708,691,733,690,.75],[727,691,751,690,.72],[745,690,768,687,.6],[763,689,787,689,.95],[780,689,804,689,.95],[798,691,823,691,.72],[826,690,851,693,.88],[843,692,868,694,.87]];

const colorbarTicks=[0,0.2,0.5,0.75,1];
const colorbarLabels=['0','0.2','0.5','0.75','1'];

function jet(v){
  const c=t=>Math.round(255*Math.max(0,Math.min(1,1.5-Math.abs(4*v-t))));
  return `rgb(${c(3)},${c(2)},${c(1)})`;
}
function arrowPath(a){
  const [x0,y0,x1,y1]=a,dx=x1-x0,dy=y1-y0,L=Math.hypot(dx,dy)||1,ux=dx/L,uy=dy/L,h=6.5,w=2.3;
  return [{x:x0,y:y0},{x:x1,y:y1},{x:x1-h*ux-w*uy,y:y1-h*uy+w*ux},{x:x1,y:y1},{x:x1-h*ux+w*uy,y:y1-h*uy-w*ux}];
}
const frame={id:'frame',afterDraw(c){const a=c.chartArea,g=c.ctx;g.save();g.strokeStyle='#111';g.lineWidth=1.3;g.strokeRect(a.left,a.top,a.right-a.left,a.bottom-a.top);
  if(c.options.indexAxis==='y'){g.strokeStyle='#222';g.lineWidth=1;const s=c.scales.x;colorbarTicks.slice(1,-1).forEach(t=>{const x=s.getPixelForValue(t);g.beginPath();g.moveTo(x,a.bottom);g.lineTo(x,a.bottom-3);g.stroke();});}
  g.restore();}};
function panel(id,arrows,xr,yr){
  new Chart(document.getElementById(id),{type:'scatter',
    data:{datasets:arrows.map(a=>({data:arrowPath(a),showLine:true,borderColor:jet(a[4]),borderWidth:1.25,pointRadius:0,pointHoverRadius:0,tension:0,clip:false}))},
    options:{responsive:false,animation:false,events:[],layout:{padding:20},
      plugins:{legend:{display:false},tooltip:{enabled:false}},
      scales:{x:{type:'linear',display:false,min:xr[0],max:xr[1]},y:{type:'linear',display:false,reverse:true,min:yr[0],max:yr[1]}}},
    plugins:[frame]});
}
panel('pa',baselineG20,[71,434],[57,357]);
panel('pb',baselineG40,[491,855],[57,357]);
panel('pc',tripleCrossG20,[71,434],[402,702]);
panel('pd',tripleCrossG40,[491,855],[402,702]);

new Chart(document.getElementById('cb'),{type:'bar',
  data:{labels:['speed'],datasets:[{data:[[0,1]],barPercentage:1,categoryPercentage:1,
    backgroundColor(ctx){const a=ctx.chart.chartArea;if(!a)return '#00f';const g=ctx.chart.ctx.createLinearGradient(a.left,0,a.right,0);for(let i=0;i<=32;i++)g.addColorStop(i/32,jet(i/32));return g;}}]},
  options:{indexAxis:'y',responsive:false,animation:false,events:[],layout:{padding:{left:60,right:60,top:10,bottom:0}},
    plugins:{legend:{display:false},tooltip:{enabled:false}},
    scales:{
      y:{display:false},
      x:{type:'linear',min:0,max:1,position:'bottom',
        afterBuildTicks(s){s.ticks=colorbarTicks.map(v=>({value:v}));},
        afterFit(s){s.height=30;},
        grid:{display:false},border:{display:false},
        ticks:{autoSkip:false,maxRotation:0,padding:-2,color:'#000',font:{family:'Liberation Serif',size:22},callback(v){return colorbarLabels[colorbarTicks.indexOf(v)];}}}}},
  plugins:[frame]});
</script></body></html>
